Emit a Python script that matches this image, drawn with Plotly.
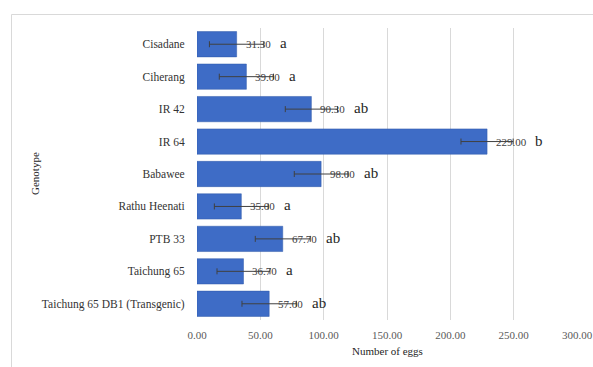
import plotly.graph_objects as go

genotypes = ["Cisadane", "Ciherang", "IR 42", "IR 64", "Babawee", "Rathu Heenati",
             "PTB 33", "Taichung 65", "Taichung 65 DB1 (Transgenic)"]
eggs = [31.30, 39.00, 90.30, 229.00, 98.00, 35.00, 67.70, 36.70, 57.00]
errors = [21.5, 21.4, 20.6, 20.6, 21.2, 21.3, 21.7, 20.9, 21.5]
letters = ["a", "a", "ab", "b", "ab", "a", "ab", "a", "ab"]
x_ticks = [0, 50, 100, 150, 200, 250, 300]

SERIF = "Liberation Serif, Times New Roman, DejaVu Serif, serif"
W, H = 593, 367
L, R, T, B = 197, 16, 28, 47
pw, ph = W - L - R, H - T - B

fig = go.Figure()
fig.add_trace(go.Bar(
    y=genotypes, x=eggs, orientation="h",
    marker=dict(color="#3e6cc6", line=dict(color="#2f58a8", width=0.5)),
    error_x=dict(type="data", array=errors, visible=True, color="#404040",
                 thickness=1, width=3),
    hoverinfo="skip",
))

annotations = []
for g, v, lab in zip(genotypes, eggs, letters):
    s = f"{v:.2f}"
    annotations.append(dict(x=v, y=g, xref="x", yref="y", text=s, showarrow=False,
                            xanchor="left", xshift=7,
                            font=dict(family=SERIF, size=11, color="#404040")))
    annotations.append(dict(x=v, y=g, xref="x", yref="y", text=lab, showarrow=False,
                            xanchor="left", xshift=7 + len(s) * 5.0 + 9, yshift=1,
                            font=dict(family=SERIF, size=15, color="#262626")))

annotations.append(dict(x=(35 - L) / pw, y=0.5, xref="paper", yref="paper",
                        xanchor="center", yanchor="middle",
                        text="Genotype", textangle=-90, showarrow=False,
                        font=dict(family=SERIF, size=11, color="#262626")))
annotations.append(dict(x=0.5, y=-(351 - (T + ph)) / ph, xref="paper", yref="paper",
                        text="Number of eggs", showarrow=False,
                        xanchor="center", yanchor="middle",
                        font=dict(family=SERIF, size=11, color="#262626")))

fig.update_layout(
    width=W, height=H,
    margin=dict(l=L, r=R, t=T, b=B, autoexpand=False),
    paper_bgcolor="white", plot_bgcolor="white",
    showlegend=False, bargap=0.22,
    font=dict(family=SERIF),
    annotations=annotations,
    shapes=[dict(type="rect", xref="paper", yref="paper",
                 x0=(11.5 - L) / pw, x1=(W + 5 - L) / pw,
                 y0=-(H + 5 - T - ph) / ph, y1=1 + (T - 14.5) / ph,
                 line=dict(color="#d9d9d9", width=1), layer="below")],
    xaxis=dict(range=[0, 300], tickvals=x_ticks, automargin=False,
               ticktext=[f"{t:.2f}" for t in x_ticks],
               showgrid=True, gridcolor="#d9d9d9", gridwidth=1,
               zeroline=False, showline=False,
               tickfont=dict(family=SERIF, size=11, color="#595959"),
               ticks="outside", ticklen=5, tickcolor="rgba(0,0,0,0)"),
    yaxis=dict(categoryorder="array", categoryarray=genotypes, autorange="reversed",
               showgrid=False, zeroline=False, showline=False, automargin=False,
               tickfont=dict(family=SERIF, size=11.5, color="#333333"),
               ticks="outside", ticklen=9, tickcolor="rgba(0,0,0,0)"),
)
fig.write_html("out.html")
